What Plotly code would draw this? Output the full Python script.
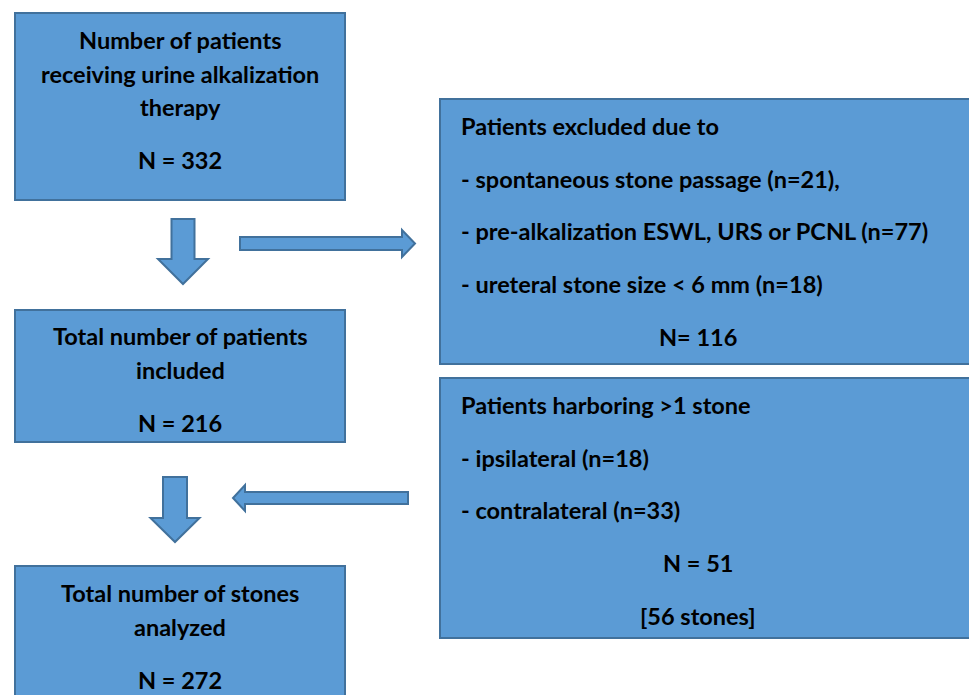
import plotly.graph_objects as go

# ---- content ----
box1_lines = ["Number of patients", "receiving urine alkalization", "therapy", "N = 332"]
box2_lines = ["Total number of patients", "included", "N = 216"]
box3_lines = ["Total number of stones", "analyzed", "N = 272"]
excl_lines = ["Patients excluded due to",
              "- spontaneous stone passage (n=21),",
              "- pre-alkalization ESWL, URS or PCNL (n=77)",
              "- ureteral stone size < 6 mm (n=18)"]
excl_total = "N= 116"
multi_lines = ["Patients harboring >1 stone", "- ipsilateral (n=18)", "- contralateral (n=33)"]
multi_total = ["N = 51", "[56 stones]"]

# ---- layout geometry (pixels) ----
W, H = 969, 695
FILL = "#5B9BD5"
EDGE = "#41719C"
FONT = dict(family="Lato, Open Sans, sans-serif", size=23.5, color="black")

boxes = [(15, 13, 345, 200), (15, 310, 345, 442), (15, 566, 345, 720),
         (440, 99, 990, 364), (440, 378, 990, 638)]

fig = go.Figure()
shapes = []
for x0, y0, x1, y1 in boxes:
    shapes.append(dict(type="rect", xref="x", yref="y", x0=x0, y0=y0, x1=x1, y1=y1,
                       fillcolor=FILL, line=dict(color=EDGE, width=2), layer="below"))

def down_arrow(cx, top, head_y, tip, sw, hw):
    return (f"M {cx-sw} {top} L {cx+sw} {top} L {cx+sw} {head_y} L {cx+hw} {head_y} "
            f"L {cx} {tip} L {cx-hw} {head_y} L {cx-sw} {head_y} Z")

def h_arrow(x_start, head_x, tip, cy, sw, hw):
    return (f"M {x_start} {cy-sw} L {head_x} {cy-sw} L {head_x} {cy-hw} L {tip} {cy} "
            f"L {head_x} {cy+hw} L {head_x} {cy+sw} L {x_start} {cy+sw} Z")

arrows = [down_arrow(183, 219, 259, 284, 11.5, 25),
          h_arrow(240, 402, 415, 243.5, 6.5, 13.5),
          down_arrow(175, 477, 518, 542, 12, 24.5),
          h_arrow(408, 245, 233, 498, 6, 13)]
for p in arrows:
    shapes.append(dict(type="path", xref="x", yref="y", path=p,
                       fillcolor=FILL, line=dict(color=EDGE, width=2), layer="below"))

ann = []
def add(text, x, y, anchor="center"):
    ann.append(dict(text=f"<b>{text}</b>", x=x, y=y, xref="x", yref="y", showarrow=False,
                    xanchor=anchor, yanchor="middle", font=FONT))

for t, y in zip(box1_lines, [40, 74, 107, 160]):
    add(t, 180, y)
for t, y in zip(box2_lines, [336, 370, 423]):
    add(t, 180, y)
for t, y in zip(box3_lines, [593, 627, 680]):
    add(t, 180, y)
for t, y in zip(excl_lines, [126, 179, 231, 284]):
    add(t, 459, y, "left")
add(excl_total, 698, 337)
for t, y in zip(multi_lines, [405, 458, 510]):
    add(t, 459, y, "left")
for t, y in zip(multi_total, [563, 616]):
    add(t, 698, y)

fig.update_layout(width=W, height=H, margin=dict(l=0, r=0, t=0, b=0),
                  paper_bgcolor="white", plot_bgcolor="white",
                  xaxis=dict(range=[0, W], visible=False, fixedrange=True),
                  yaxis=dict(range=[H, 0], visible=False, fixedrange=True),
                  shapes=shapes, annotations=ann, showlegend=False)
fig.write_html("out.html", config={"displayModeBar": False},
               post_script="document.body.style.margin='0';document.body.style.overflow='hidden';")
